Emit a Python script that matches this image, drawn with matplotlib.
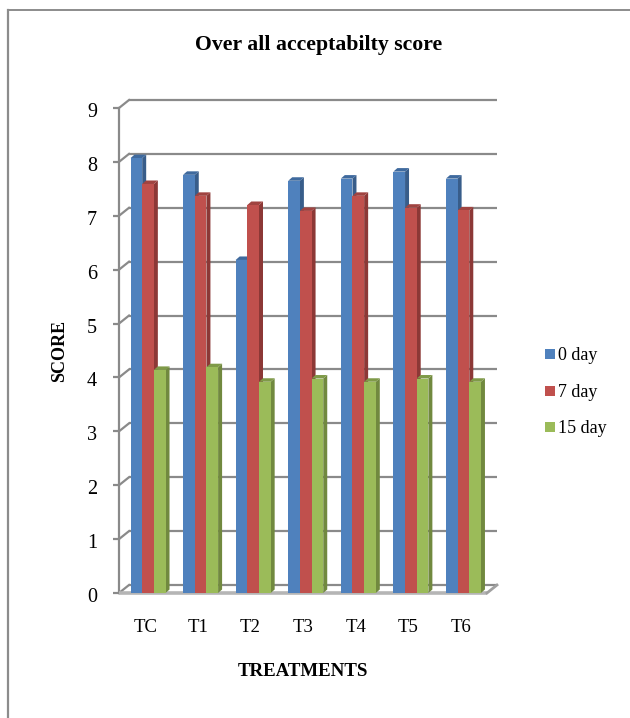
import matplotlib
matplotlib.use("Agg")
import matplotlib.pyplot as plt
from matplotlib.patches import Polygon, Rectangle
from matplotlib.transforms import ScaledTranslation

plt.rcParams["font.family"] = ["Liberation Serif", "DejaVu Serif"]

treatments = ["TC", "T1", "T2", "T3", "T4", "T5", "T6"]
series_names = ["0 day", "7 day", "15 day"]
day_0 = [8.07, 7.76, 6.18, 7.65, 7.69, 7.82, 7.69]
day_7 = [7.59, 7.37, 7.20, 7.09, 7.37, 7.15, 7.10]
day_15 = [4.14, 4.19, 3.92, 3.98, 3.92, 3.98, 3.92]
score_ticks = [0, 1, 2, 3, 4, 5, 6, 7, 8, 9]

W, H = 630, 718
GREY = "#8a8a8a"
front_colors = ["#4f81bd", "#c0504d", "#9bbb59"]
side_colors = ["#385d8a", "#8c3836", "#71893f"]
top_colors = ["#3f6a9e", "#a04340", "#7f9a48"]


def px_x(p):
    return p / W


def px_y(p):
    return 1 - p / H


fig = plt.figure(figsize=(W / 100, H / 100), dpi=100)
ax = fig.add_axes([px_x(119), px_y(593), px_x(487) - px_x(119), px_y(108) - px_y(593)])
ax.set_xlim(0, len(treatments))
ax.set_ylim(0, 9)
ax.patch.set_visible(False)
for s in ax.spines.values():
    s.set_visible(False)

# outer frame of the page
fig.add_artist(plt.Line2D([px_x(8), px_x(8)], [0, px_y(10)], color="#8c8c8c", lw=1.6))
fig.add_artist(plt.Line2D([px_x(8), 1], [px_y(10), px_y(10)], color="#8c8c8c", lw=1.4))

# back wall sits up and to the right of the front plane
wall_dx, wall_dy = 10 / 52.6, 8 / 53.9
n = len(treatments)
for v in score_ticks:
    ax.plot([wall_dx, n + wall_dx], [v + wall_dy, v + wall_dy], color=GREY, lw=1.6, zorder=1,
            clip_on=False, solid_capstyle="butt")
    ax.plot([0, wall_dx], [v, v + wall_dy], color=GREY, lw=1.6, zorder=1, clip_on=False)

# front axis and floor
ax.plot([0, 0], [0, 9], color=GREY, lw=1.6, zorder=2, clip_on=False)
ax.plot([0, n], [0, 0], color="#b5b5b5", lw=2.6, zorder=2, clip_on=False, solid_capstyle="butt")
ax.plot([n, n + wall_dx], [0, wall_dy], color="#a0a0a0", lw=2, zorder=2, clip_on=False)

ax.set_xticks([i + 0.5 for i in range(n)])
ax.set_xticklabels(treatments, fontsize=13.5)
ax.set_yticks(score_ticks)
ax.tick_params(axis="x", length=0, pad=18.5)
ax.tick_params(axis="y", length=4.3, width=1.6, color=GREY, labelsize=14.5, pad=11.5)
ax.set_xlabel("TREATMENTS", fontsize=13.6, fontweight="bold", labelpad=19.5)
ax.set_ylabel("SCORE", fontsize=13, fontweight="bold", labelpad=13.5)
for lbl in ax.get_yticklabels():
    lbl.set_transform(lbl.get_transform() + ScaledTranslation(0, -2 / 100, fig.dpi_scale_trans))
fig.text(px_x(319), px_y(45), "Over all acceptabilty score", fontsize=15.7, fontweight="bold",
         ha="center", va="center")

# 3d bars: front face via bar, then side and top faces
bar_w = 0.222
start = 0.219
dx, dy = 4 / 52.6, 3.5 / 53.9
for j, vals in enumerate([day_0, day_7, day_15]):
    xs = [i + start + j * bar_w for i in range(n)]
    ax.bar(xs, vals, width=bar_w, align="edge", color=front_colors[j], zorder=4 + j * 2,
           clip_on=False)
    for x, v in zip(xs, vals):
        r = x + bar_w
        ax.add_patch(Polygon([(r, 0), (r + dx, dy), (r + dx, v + dy), (r, v)],
                             fc=side_colors[j], ec="none", zorder=3 + j * 2, clip_on=False))
        ax.add_patch(Polygon([(x, v), (x + dx, v + dy), (r + dx, v + dy), (r, v)],
                             fc=top_colors[j], ec="none", zorder=3 + j * 2, clip_on=False))

# legend is placed by hand to sit like the source
for k, name in enumerate(series_names):
    y = [354, 391, 427][k]
    fig.add_artist(Rectangle((px_x(545), px_y(y + 5)), 10 / W, 10 / H, fc=front_colors[k],
                             ec="none", transform=fig.transFigure))
    fig.text(px_x(558.5), px_y(y + 1.5), name, fontsize=13, va="center", ha="left")

fig.savefig("out.png", dpi=100)
